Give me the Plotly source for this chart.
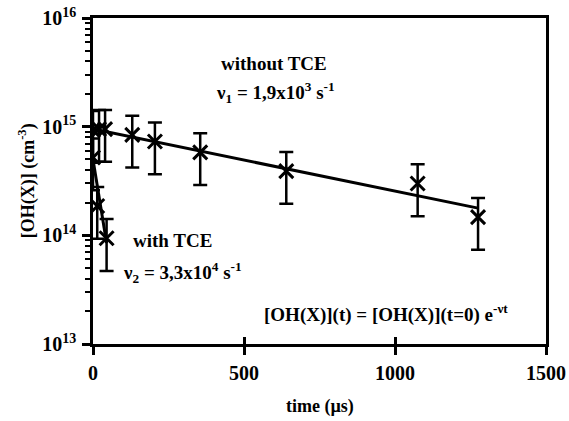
import plotly.graph_objects as go

# ---- data ----
t_without = [0, 20, 40, 130, 205, 355, 640, 1075, 1275]            # µs
oh_without = [9.3e14, 9.5e14, 9.5e14, 8.4e14, 7.3e14, 5.8e14, 3.9e14, 3.0e14, 1.47e14]

t_with = [0, 14, 45]
oh_with = [5.2e14, 1.86e14, 9.4e13]

err_percent = 50  # error bars ±50 %

fit_without_t = [0, 1275]
fit_without_y = [9.5e14, 1.78e14]
fit_with_t = [0, 45]
fit_with_y = [5.0e14, 8.5e13]

x_ticks = [0, 500, 1000, 1500]
x_ticklabels = ["0", "500", "1000", "1500"]
y_ticks = [1e13, 1e14, 1e15, 1e16]
y_ticklabels = ["10<sup>13</sup>", "10<sup>14</sup>", "10<sup>15</sup>", "10<sup>16</sup>"]

FONT = "Liberation Serif"
BLACK = "black"

fig = go.Figure()

for tx, ty in [(fit_without_t, fit_without_y), (fit_with_t, fit_with_y)]:
    fig.add_trace(go.Scatter(x=tx, y=ty, mode="lines",
                             line=dict(color=BLACK, width=3), showlegend=False,
                             hoverinfo="skip"))

for tx, ty in [(t_without, oh_without), (t_with, oh_with)]:
    fig.add_trace(go.Scatter(
        x=tx, y=ty, mode="markers", showlegend=False,
        marker=dict(symbol="x-thin", size=14, color=BLACK,
                    line=dict(color=BLACK, width=3)),
        error_y=dict(type="percent", value=err_percent, color=BLACK,
                     thickness=2.5, width=7)))

# dummy trace for crossing x ticks (inside part)
fig.add_trace(go.Scatter(x=[None], y=[None], xaxis="x2", showlegend=False,
                         hoverinfo="skip"))

tickfont = dict(family=FONT, size=20, color=BLACK, weight="bold")

fig.update_layout(
    width=569, height=421,
    margin=dict(l=93, r=23, t=18, b=77),
    paper_bgcolor="white", plot_bgcolor="white",
    font=dict(family=FONT, size=19, color=BLACK, weight="bold"),
    xaxis=dict(range=[0, 1500], tickvals=x_ticks, ticktext=x_ticklabels,
               ticks="outside", ticklen=8, tickwidth=2.5, tickcolor=BLACK,
               showline=True, linewidth=2.5, linecolor=BLACK, mirror=True,
               showgrid=False, zeroline=False, tickfont=tickfont,
               ticklabelstandoff=1, automargin=False),
    xaxis2=dict(range=[0, 1500], overlaying="x", anchor="y", side="bottom",
                tickvals=x_ticks, ticks="inside", ticklen=7, tickwidth=2.5,
                tickcolor=BLACK, showticklabels=False, showline=False,
                showgrid=False, zeroline=False, automargin=False),
    yaxis=dict(type="log", range=[13, 16], tickvals=y_ticks, ticktext=y_ticklabels,
               ticks="outside", ticklen=8, tickwidth=2.5, tickcolor=BLACK,
               minor=dict(ticks="outside", ticklen=5, tickwidth=2, tickcolor=BLACK,
                          dtick="D1", showgrid=False),
               showline=True, linewidth=2.5, linecolor=BLACK, mirror=True,
               showgrid=False, zeroline=False, tickfont=tickfont,
               ticklabelstandoff=2, automargin=False),
)

ann_font = dict(family=FONT, size=19, color=BLACK, weight="bold")
annotations = [
    dict(x=598, y=15.585, text="without TCE"),
    dict(x=605, y=15.318, text="ν<sub>1</sub> = 1,9x10<sup>3</sup> s<sup>-1</sup>"),
    dict(x=264, y=13.957, text="with TCE"),
    dict(x=296, y=13.662, text="ν<sub>2</sub> = 3,3x10<sup>4</sup> s<sup>-1</sup>"),
    dict(x=970, y=13.285, text="[OH(X)](t) = [OH(X)](t=0) e<sup>-νt</sup>"),
]
for a in annotations:
    fig.add_annotation(xref="x", yref="y", showarrow=False, font=ann_font,
                       xanchor="center", yanchor="middle", **a)

fig.add_annotation(xref="paper", yref="paper", x=0.5, y=-0.193, showarrow=False,
                   text="time (µs)", font=dict(family=FONT, size=18, color=BLACK, weight="bold"),
                   xanchor="center", yanchor="middle")
fig.add_annotation(xref="paper", yref="paper", x=-0.145, y=0.5, showarrow=False,
                   text="[OH(X)] (cm<sup>-3</sup>)", textangle=-90,
                   font=dict(family=FONT, size=18, color=BLACK, weight="bold"),
                   xanchor="center", yanchor="middle")

fig.write_html("out.html", config={"displayModeBar": False},
               post_script="document.body.style.margin='0';document.body.style.overflow='hidden';")
